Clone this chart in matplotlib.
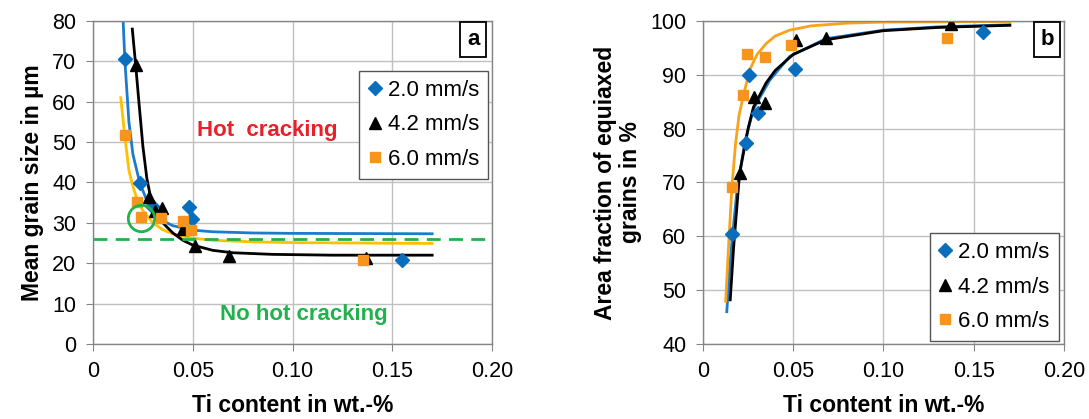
import matplotlib
matplotlib.use("Agg")
import matplotlib.pyplot as plt

plt.rcParams['font.family'] = ['Liberation Sans', 'DejaVu Sans']

# ---- panel a: mean grain size ----
a_ti_20 = [0.0159, 0.0234, 0.0298, 0.0480, 0.0498, 0.1550]
a_gs_20 = [70.7, 39.8, 34.3, 33.9, 31.0, 20.9]
a_ti_42 = [0.0214, 0.0282, 0.0312, 0.0344, 0.0453, 0.0513, 0.0683, 0.1370]
a_gs_42 = [69.0, 36.5, 33.0, 33.6, 28.6, 24.3, 21.8, 21.3]
a_ti_60 = [0.0159, 0.0219, 0.0241, 0.0341, 0.0453, 0.0491, 0.1355]
a_gs_60 = [51.7, 35.1, 31.5, 31.1, 30.5, 28.2, 20.8]

# fitted trend lines
a_fit_x_20 = [0.0151, 0.016, 0.018, 0.020, 0.0234, 0.027, 0.030, 0.035, 0.040, 0.050, 0.060, 0.080, 0.100, 0.170]
a_fit_y_20 = [80.0, 70.0, 55.0, 47.0, 40.0, 35.5, 33.0, 30.5, 29.3, 28.2, 27.8, 27.5, 27.4, 27.3]
a_fit_x_42 = [0.0197, 0.0214, 0.023, 0.025, 0.027, 0.029, 0.032, 0.035, 0.040, 0.045, 0.050, 0.060, 0.070, 0.090, 0.120, 0.170]
a_fit_y_42 = [78.0, 69.0, 60.0, 49.0, 41.0, 36.0, 32.0, 30.0, 27.5, 25.7, 24.5, 23.2, 22.6, 22.2, 22.0, 22.0]
a_fit_x_60 = [0.0139, 0.0159, 0.018, 0.020, 0.022, 0.025, 0.030, 0.035, 0.040, 0.050, 0.060, 0.080, 0.100, 0.170]
a_fit_y_60 = [61.0, 51.7, 43.0, 39.0, 36.0, 33.0, 30.0, 28.3, 27.3, 26.2, 25.7, 25.3, 25.1, 24.9]

crack_limit = 25.9
circled_pt = (0.0241, 31.1)

# ---- panel b: equiaxed area fraction ----
b_ti_20 = [0.0161, 0.0236, 0.0256, 0.0304, 0.0508, 0.1554]
b_af_20 = [60.5, 77.4, 90.0, 82.9, 91.0, 98.0]
b_ti_42 = [0.0203, 0.0281, 0.0345, 0.0514, 0.0682, 0.1376]
b_af_42 = [71.7, 85.9, 84.8, 96.4, 96.9, 99.4]
b_ti_60 = [0.0161, 0.0223, 0.0242, 0.0341, 0.0490, 0.1353]
b_af_60 = [69.1, 86.2, 93.8, 93.4, 95.6, 96.8]

b_fit_x_20 = [0.0132, 0.015, 0.0165, 0.019, 0.0233, 0.028, 0.037, 0.048, 0.068, 0.100, 0.130, 0.170]
b_fit_y_20 = [46.0, 55.0, 60.6, 69.0, 77.6, 83.7, 89.0, 93.4, 96.7, 98.3, 98.9, 99.3]
b_fit_x_42 = [0.0151, 0.017, 0.0203, 0.025, 0.028, 0.035, 0.040, 0.050, 0.068, 0.100, 0.130, 0.170]
b_fit_y_42 = [48.2, 58.0, 71.7, 80.0, 84.0, 88.5, 90.8, 93.8, 96.5, 98.2, 98.8, 99.2]
b_fit_x_60 = [0.0126, 0.014, 0.016, 0.018, 0.020, 0.0223, 0.026, 0.030, 0.035, 0.040, 0.048, 0.060, 0.080, 0.100, 0.170]
b_fit_y_60 = [47.9, 57.0, 69.0, 77.0, 82.5, 86.0, 91.0, 93.8, 95.8, 97.2, 98.3, 99.1, 99.6, 99.8, 99.9]

labels = ['2.0 mm/s', '4.2 mm/s', '6.0 mm/s']
xticks = [0, 0.05, 0.10, 0.15, 0.20]
xtick_labels = ['0', '0.05', '0.10', '0.15', '0.20']

BLUE = '#0A6EBD'
BLUE_LINE = '#1C7CCB'
ORANGE = '#F7941D'
YELLOW = '#FFC000'
ORANGE_LINE = '#F9A21B'
GREEN = '#22B14C'
RED = '#E8202A'
GRID = '#C0C0C0'
FRAME = '#858585'


def style_axes(ax, ylim, yticks):
    ax.set_xlim(0, 0.20)
    ax.set_ylim(*ylim)
    ax.set_xticks(xticks)
    ax.set_xticklabels(xtick_labels)
    ax.set_yticks(yticks)
    ax.grid(True, color=GRID, lw=1.0)
    ax.set_axisbelow(True)
    for sp in ax.spines.values():
        sp.set_color(FRAME)
        sp.set_linewidth(1.0)
    ax.tick_params(direction='out', length=5, color=FRAME, labelsize=15.5, pad=7)
    ax.set_xlabel('Ti content in wt.-%', fontsize=16.5, fontweight='bold', labelpad=9)


def panel_tag(ax, tag):
    ax.text(0.953, 0.943, tag, transform=ax.transAxes, fontsize=16, fontweight='bold',
            ha='center', va='center',
            bbox=dict(boxstyle='square,pad=0.3', fc='white', ec='black', lw=1.3))


def add_legend(ax, loc, anchor):
    leg = ax.legend(loc=loc, bbox_to_anchor=anchor, fontsize=16,
                    handlelength=0.6, handletextpad=0.3, borderpad=0.4, labelspacing=0.6,
                    fancybox=False, framealpha=1, edgecolor='#555555', borderaxespad=0)
    leg.get_frame().set_linewidth(1.0)
    return leg


fig = plt.figure(figsize=(10.89, 4.19), dpi=100)
ax1 = fig.add_axes([0.0854, 0.179, 0.3664, 0.7709])
ax2 = fig.add_axes([0.6455, 0.179, 0.3315, 0.7709])

# panel a
ax1.plot(a_fit_x_20, a_fit_y_20, color=BLUE_LINE, lw=2)
ax1.plot(a_fit_x_60, a_fit_y_60, color=YELLOW, lw=2)
ax1.plot(a_fit_x_42, a_fit_y_42, color='black', lw=2)
ax1.axhline(crack_limit, color=GREEN, lw=2, ls=(0, (5, 3)))
ax1.plot(a_ti_20, a_gs_20, 'D', color=BLUE, ms=7.5, ls='none', label=labels[0])
ax1.plot(a_ti_42, a_gs_42, '^', color='black', ms=9, ls='none', label=labels[1])
ax1.plot(a_ti_60, a_gs_60, 's', color=ORANGE, ms=7, ls='none', label=labels[2])
ax1.plot([circled_pt[0]], [circled_pt[1]], 'o', ms=19, mfc='none', mec=GREEN, mew=2)
ax1.text(0.0871, 53.0, 'Hot  cracking', color=RED, fontsize=16, fontweight='bold',
         ha='center', va='center')
ax1.text(0.1058, 7.2, 'No hot cracking', color=GREEN, fontsize=16, fontweight='bold',
         ha='center', va='center')
style_axes(ax1, (0, 80), range(0, 81, 10))
ax1.set_ylabel('Mean grain size in µm', fontsize=16.5, fontweight='bold', labelpad=6)
add_legend(ax1, 'upper right', (0.99, 0.845))
panel_tag(ax1, 'a')

# panel b
ax2.plot(b_fit_x_20, b_fit_y_20, color=BLUE_LINE, lw=2)
ax2.plot(b_fit_x_60, b_fit_y_60, color=ORANGE_LINE, lw=2)
ax2.plot(b_fit_x_42, b_fit_y_42, color='black', lw=2)
ax2.plot(b_ti_20, b_af_20, 'D', color=BLUE, ms=7.5, ls='none', label=labels[0])
ax2.plot(b_ti_42, b_af_42, '^', color='black', ms=9, ls='none', label=labels[1])
ax2.plot(b_ti_60, b_af_60, 's', color=ORANGE, ms=7, ls='none', label=labels[2])
style_axes(ax2, (40, 100), range(40, 101, 10))
ax2.set_ylabel('Area fraction of equiaxed\ngrains in %', fontsize=16.5, fontweight='bold',
               labelpad=6, linespacing=1.1)
add_legend(ax2, 'lower right', (0.985, 0.01))
panel_tag(ax2, 'b')

fig.savefig('out.png', dpi=100)
